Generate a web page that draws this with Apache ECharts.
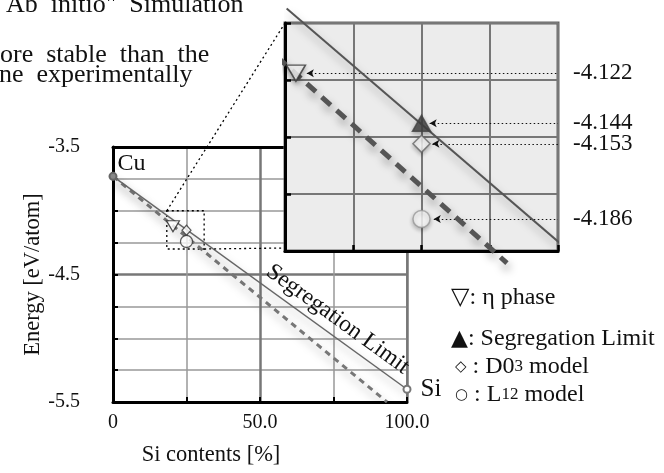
<!DOCTYPE html>
<html>
<head>
<meta charset="utf-8">
<script src="https://cdn.jsdelivr.net/npm/echarts@6/dist/echarts.min.js"></script>
<style>
html,body{margin:0;padding:0;background:#fff;}
#main{width:664px;height:473px;}
</style>
</head>
<body>
<div id="main"></div>
<script>
var serif = '"Liberation Serif","Times New Roman",serif';

// main chart
var xTickLabels = ['0', '50.0', '100.0'];
var yTickLabels = ['-5.5', '-4.5', '-3.5'];
var endNames = ['Cu', 'Si'];
var segX = [0, 100];
var segY = [-3.73, -5.40];
var dashX = [0, 93.2];
var dashY = [-3.73, -5.5];
var zoomBoxX = [18.3, 31];
var zoomBoxY = [-4.0, -4.3];

// phases (eta, segregation limit, D03, L12)
var phaseX = [20.4, 25, 25, 25];
var phaseE = [-4.122, -4.144, -4.153, -4.186];

// inset
var insetSegX = [20.06, 30.5];
var insetSegY = [-4.0936, -4.201];
var insetDashX = [19.71, 28.13];
var insetDashY = [-4.1149, -4.2053];
var arrowFromX = [20.8, 25.3, 25.4, 25.45];
var arrowToX = 30;

var downTri = 'path://M0,0L20,0L10,17Z';
var shadow = {shadowBlur: 9, shadowColor: 'rgba(0,0,0,0.35)', shadowOffsetX: 2, shadowOffsetY: 6};

function pairs(xs, ys) {
    var out = [];
    for (var i = 0; i < xs.length; i++) out.push([xs[i], ys[i]]);
    return out;
}

var myChart = echarts.init(document.getElementById('main'));

var insetMarks = [
    {sym: downTri, size: [19, 16], color: '#fff', border: '#333'},
    {sym: 'triangle', size: [18, 16], color: '#444', border: '#444'},
    {sym: 'diamond', size: [17, 17], color: '#fff', border: '#666'},
    {sym: 'circle', size: 17, color: '#fff', border: '#999'}
];

var series = [
    {
        type: 'line', xAxisIndex: 0, yAxisIndex: 0, z: 3,
        data: [
            {value: [segX[0], segY[0]], itemStyle: {color: '#888', borderColor: '#666'},
             label: {show: true, formatter: endNames[0], position: [9, -20], fontSize: 24, fontFamily: serif, color: '#111'}},
            {value: [segX[1], segY[1]],
             label: {show: true, formatter: endNames[1], position: 'right', distance: 9, fontSize: 25, fontFamily: serif, color: '#111'}}
        ],
        symbol: 'circle', symbolSize: 7, showAllSymbol: true,
        itemStyle: {color: '#fff', borderColor: '#777', borderWidth: 2},
        lineStyle: Object.assign({color: '#666', width: 1.5}, shadow),
        markLine: {
            silent: true, symbol: 'none', lineStyle: {color: 'rgba(0,0,0,0)', width: 1},
            label: {show: true, position: 'insideEndTop', formatter: 'Segregation Limit', fontSize: 23.5, fontFamily: serif, color: '#111', distance: [12, 4]},
            data: [[{coord: [segX[0], segY[0]]}, {coord: [segX[1], segY[1]]}]]
        }
    },
    {
        type: 'line', xAxisIndex: 0, yAxisIndex: 0, z: 2,
        data: pairs(dashX, dashY), symbol: 'none',
        lineStyle: Object.assign({color: '#777', width: 3, type: [6, 5]}, shadow),
        markArea: {
            silent: true,
            itemStyle: {color: 'rgba(0,0,0,0)', borderColor: '#000', borderWidth: 1.3, borderType: [2, 3]},
            data: [[{coord: [zoomBoxX[0], zoomBoxY[0]]}, {coord: [zoomBoxX[1], zoomBoxY[1]]}]]
        }
    },
    {
        type: 'scatter', xAxisIndex: 0, yAxisIndex: 0, z: 4,
        data: [
            {value: [phaseX[0], phaseE[0]], symbol: downTri, symbolSize: [13, 11], itemStyle: {color: '#fff', borderColor: '#222', borderWidth: 1.2}},
            {value: [phaseX[2], phaseE[2]], symbol: 'diamond', symbolSize: [9, 10], itemStyle: {color: '#fff', borderColor: '#333', borderWidth: 1.2}},
            {value: [phaseX[3], phaseE[3]], symbol: 'circle', symbolSize: 12, symbolOffset: [0, 7], itemStyle: {color: '#fff', borderColor: '#333', borderWidth: 1.2}}
        ]
    },
    {
        type: 'line', xAxisIndex: 2, yAxisIndex: 1, z: 6, clip: false,
        data: pairs(insetSegX, insetSegY), symbol: 'none',
        lineStyle: Object.assign({color: '#555', width: 2}, shadow)
    },
    {
        type: 'line', xAxisIndex: 2, yAxisIndex: 1, z: 6, clip: false,
        data: pairs(insetDashX, insetDashY), symbol: 'none',
        lineStyle: Object.assign({color: '#555', width: 5, type: [12, 8]}, shadow)
    }
];

insetMarks.forEach(function (m, i) {
    series.push({
        type: 'scatter', xAxisIndex: 2, yAxisIndex: 1, z: 7, clip: false,
        symbol: m.sym, symbolSize: m.size,
        itemStyle: {color: m.color, borderColor: m.border, borderWidth: 1.5, shadowBlur: 4, shadowColor: 'rgba(0,0,0,0.3)', shadowOffsetY: 2},
        data: [[phaseX[i], phaseE[i]]],
        markLine: {
            silent: true, symbol: ['arrow', 'none'], symbolSize: [6, 7],
            lineStyle: {color: '#111', width: 1.2, type: [1.5, 2.5]},
            label: {show: true, position: 'end', distance: 15, formatter: phaseE[i].toFixed(3), fontSize: 23, fontFamily: serif, color: '#111'},
            data: [[{coord: [arrowFromX[i], phaseE[i]]}, {coord: [arrowToX, phaseE[i]]}]]
        }
    });
});

var legendSyms = ['▽', '▲', '◇', '○'];
var legendText = [': η phase', ': Segregation Limit', ' : D0{s|3} model', ' : L{s|12} model'];
var legendY = [298, 339, 367, 395];
var legendSymSize = [24, 22, 15, 15];

var graphics = [
    {type: 'text', x: 6, y: 5, style: {text: 'Ab  initio"  Simulation', fontSize: 26, fontFamily: serif, fill: '#111', verticalAlign: 'middle'}},
    {type: 'text', x: 0, y: 55, style: {text: 'ore  stable  than  the', fontSize: 26, fontFamily: serif, fill: '#111', verticalAlign: 'middle'}},
    {type: 'text', x: -1, y: 75, style: {text: 'ne  experimentally', fontSize: 26, fontFamily: serif, fill: '#111', verticalAlign: 'middle'}}
];
legendSyms.forEach(function (s, i) {
    graphics.push({
        type: 'text', x: i < 2 ? 451 : 455, y: legendY[i], z: 10,
        style: {
            text: '{m|' + s + '}' + legendText[i], fontSize: 24, fontFamily: serif, fill: '#111', verticalAlign: 'middle',
            rich: {
                m: {fontSize: legendSymSize[i], fontFamily: '"DejaVu Sans",sans-serif', fill: '#111'},
                s: {fontSize: 17, fontFamily: serif, fill: '#111', verticalAlign: 'middle'}
            }
        }
    });
});

var axisFont = {fontSize: 20, fontFamily: serif, color: '#111'};

var optionVal = {
    animation: false,
    grid: [
        {left: 113, top: 147, width: 294, height: 255, show: true, backgroundColor: '#fff', borderColor: '#888', borderWidth: 2, z: 0},
        {left: 285, top: 23, width: 273, height: 228, show: true, backgroundColor: '#ececec', borderColor: '#666', borderWidth: 3, z: 4}
    ],
    xAxis: [
        {
            gridIndex: 0, type: 'value', min: 0, max: 100, interval: 50,
            axisLine: {lineStyle: {color: '#000', width: 3}},
            axisTick: {inside: true, length: 5, lineStyle: {color: '#000', width: 2}},
            minorTick: {show: true, splitNumber: 2, length: 5, lineStyle: {color: '#000', width: 2}},
            axisLabel: Object.assign({margin: 11, formatter: function (v) { return xTickLabels[Math.round(v / 50)]; }}, axisFont),
            splitLine: {lineStyle: {color: '#777', width: 2.5}},
            minorSplitLine: {show: true, lineStyle: {color: '#999', width: 1.5}},
            name: 'Si contents [%]', nameLocation: 'middle', nameGap: 42,
            nameTextStyle: {fontSize: 22.5, fontFamily: serif, color: '#111', padding: [0, 98, 0, 0]}
        },
        {
            gridIndex: 0, type: 'value', position: 'top', min: 0, max: 100,
            axisLine: {lineStyle: {color: '#000', width: 3}},
            axisTick: {show: false}, axisLabel: {show: false}, splitLine: {show: false}
        },
        {
            gridIndex: 1, type: 'value', min: 20, max: 30, interval: 2.5, z: 5,
            axisLine: {lineStyle: {color: '#000', width: 3}},
            axisTick: {inside: true, length: 6, lineStyle: {color: '#000', width: 2.5}},
            axisLabel: {show: false},
            splitLine: {lineStyle: {color: '#777', width: 2}}
        }
    ],
    yAxis: [
        {
            gridIndex: 0, type: 'value', min: -5.5, max: -3.5, interval: 1,
            axisLine: {lineStyle: {color: '#000', width: 3}},
            axisTick: {inside: true, length: 5, lineStyle: {color: '#000', width: 2}},
            minorTick: {show: true, splitNumber: 4, length: 5, lineStyle: {color: '#000', width: 2}},
            axisLabel: Object.assign({margin: 33, formatter: function (v) { return yTickLabels[Math.round(v + 5.5)]; }}, axisFont),
            splitLine: {lineStyle: {color: '#777', width: 2.5}},
            minorSplitLine: {show: true, lineStyle: {color: '#999', width: 1.5}},
            name: 'Energy [eV/atom]', nameLocation: 'middle', nameGap: 66,
            nameTextStyle: {fontSize: 22.5, fontFamily: serif, color: '#111'}
        },
        {
            gridIndex: 1, type: 'value', min: -4.2, max: -4.1, interval: 0.025, z: 5,
            axisLine: {lineStyle: {color: '#000', width: 3}},
            axisTick: {inside: true, length: 6, lineStyle: {color: '#000', width: 2.5}},
            axisLabel: {show: false},
            splitLine: {lineStyle: {color: '#777', width: 2}}
        }
    ],
    graphic: {elements: graphics},
    series: series
};
myChart.setOption(optionVal, true);

// dotted connectors from zoom box to inset corners
var boxTL = myChart.convertToPixel({xAxisIndex: 0, yAxisIndex: 0}, [zoomBoxX[0], zoomBoxY[0]]);
var boxBR = myChart.convertToPixel({xAxisIndex: 0, yAxisIndex: 0}, [zoomBoxX[1], zoomBoxY[1]]);
var insTL = myChart.convertToPixel({xAxisIndex: 2, yAxisIndex: 1}, [20, -4.1]);
var insBL = myChart.convertToPixel({xAxisIndex: 2, yAxisIndex: 1}, [20, -4.2]);
var dotted = {stroke: '#000', lineWidth: 1.3, lineDash: [2, 3]};
myChart.setOption({
    graphic: {elements: [
        {type: 'line', id: 'c1', z: 20, shape: {x1: boxTL[0], y1: boxTL[1], x2: insTL[0], y2: insTL[1]}, style: dotted},
        {type: 'line', id: 'c2', z: 20, shape: {x1: boxBR[0], y1: boxBR[1], x2: insBL[0], y2: insBL[1] - 3}, style: dotted}
    ]}
});
</script>
</body>
</html>
